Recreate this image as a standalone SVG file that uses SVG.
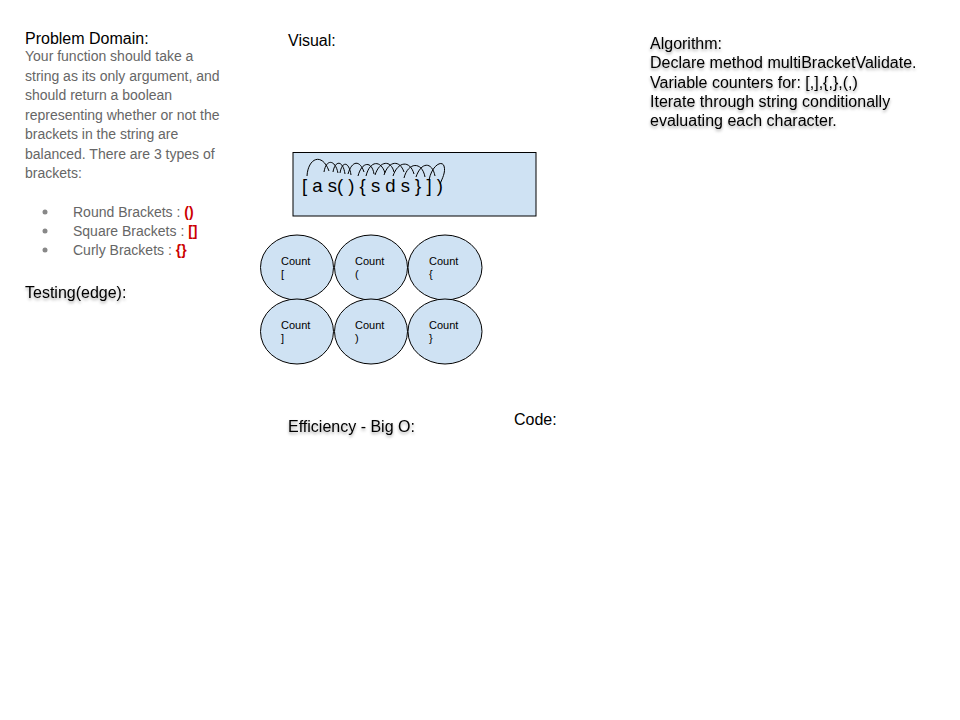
<svg xmlns="http://www.w3.org/2000/svg" width="960" height="720" viewBox="0 0 960 720">
<defs>
<filter id="sh" x="-10%" y="-30%" width="130%" height="180%">
<feDropShadow dx="0" dy="2" stdDeviation="1.5" flood-color="#000" flood-opacity="0.35"/>
</filter>
<style>
.t{font-family:"Liberation Sans",Arial,sans-serif;fill:#000}
.h{font-size:16px}
.b{font-size:14px;fill:#666}
.r{font-size:14px;fill:#cc0000;font-weight:bold}
.c{font-size:11px}
.e{fill:#cfe2f3;stroke:#000;stroke-width:1}
</style>
</defs>
<rect width="960" height="720" fill="#fff"/>
<g id="problem">
<text class="t h" x="25" y="44">Problem Domain:</text>
<text class="t b" x="25" y="61">Your function should take a</text>
<text class="t b" x="25" y="80.5">string as its only argument, and</text>
<text class="t b" x="25" y="100">should return a boolean</text>
<text class="t b" x="25" y="119.5">representing whether or not the</text>
<text class="t b" x="25" y="139">brackets in the string are</text>
<text class="t b" x="25" y="158.5">balanced. There are 3 types of</text>
<text class="t b" x="25" y="178">brackets:</text>
<circle cx="45" cy="212" r="2.5" fill="#888"/>
<circle cx="45" cy="231" r="2.5" fill="#888"/>
<circle cx="45" cy="250" r="2.5" fill="#888"/>
<text class="t b" x="73" y="216.5">Round Brackets : <tspan class="r">()</tspan></text>
<text class="t b" x="73" y="235.5">Square Brackets : <tspan class="r">[]</tspan></text>
<text class="t b" x="73" y="254.5">Curly Brackets : <tspan class="r">{}</tspan></text>
</g>
<g id="testing"><text class="t h" x="25" y="298" filter="url(#sh)">Testing(edge):</text></g>
<g id="visual"><text class="t h" x="288" y="46">Visual:</text></g>
<g id="string-box">
<rect x="293" y="152.5" width="243" height="63.5" fill="#cfe2f3" stroke="#000" stroke-width="1"/>
<text class="t" x="302" y="192" font-size="18.5" xml:space="preserve">[ a s( ) { s d s } ] )</text>
</g>
<g id="connectors" fill="none" stroke="#000" stroke-width="1">
<path d="M307 176 C308 158 322 152 329 171"/>
<path d="M324 172 C326 159 335 159 338 173"/>
<path d="M333 172 C335 160 343 160 345 174"/>
<path d="M340 173 C342 161 349 161 351 175"/>
<path d="M348 174 C352 160 360 160 364 172"/>
<path d="M358 176 C362 161 372 161 374 174"/>
<path d="M366 176 C370 160 381 160 385 173"/>
<path d="M375 175 C380 160 391 160 394 172"/>
<path d="M384 175 C389 160 400 160 404 172"/>
<path d="M393 176 C398 161 410 160 414 174"/>
<path d="M404 178 C408 162 422 161 425 177"/>
<path d="M416 177 C421 162 432 161 435 176"/>
<path d="M429 180 C432 165 442 160 444 166 C446 172 442 179 440 184"/>
</g>
<g id="count-open-square"><ellipse class="e" cx="297" cy="267.5" rx="36.5" ry="32.5"/><text class="t c" x="281" y="265">Count</text><text class="t c" x="281" y="278">[</text></g>
<g id="count-open-round"><ellipse class="e" cx="371" cy="267.5" rx="36.5" ry="32.5"/><text class="t c" x="355" y="265">Count</text><text class="t c" x="355" y="278">(</text></g>
<g id="count-open-curly"><ellipse class="e" cx="445" cy="267.5" rx="37" ry="32.5"/><text class="t c" x="429" y="265">Count</text><text class="t c" x="429" y="278">{</text></g>
<g id="count-close-square"><ellipse class="e" cx="297" cy="331.5" rx="36.5" ry="32.5"/><text class="t c" x="281" y="329">Count</text><text class="t c" x="281" y="342">]</text></g>
<g id="count-close-round"><ellipse class="e" cx="371" cy="331.5" rx="36.5" ry="32.5"/><text class="t c" x="355" y="329">Count</text><text class="t c" x="355" y="342">)</text></g>
<g id="count-close-curly"><ellipse class="e" cx="445" cy="331.5" rx="37" ry="32.5"/><text class="t c" x="429" y="329">Count</text><text class="t c" x="429" y="342">}</text></g>
<g id="algorithm" filter="url(#sh)">
<text class="t h" x="650" y="49">Algorithm:</text>
<text class="t h" x="650" y="68">Declare method multiBracketValidate.</text>
<text class="t h" x="650" y="87.5">Variable counters for: [,],{,},(,)</text>
<text class="t h" x="650" y="107">Iterate through string conditionally</text>
<text class="t h" x="650" y="126">evaluating each character.</text>
</g>
<g id="efficiency"><text class="t h" x="288" y="432" filter="url(#sh)">Efficiency - Big O:</text></g>
<g id="code"><text class="t h" x="514" y="425">Code:</text></g>
</svg>
